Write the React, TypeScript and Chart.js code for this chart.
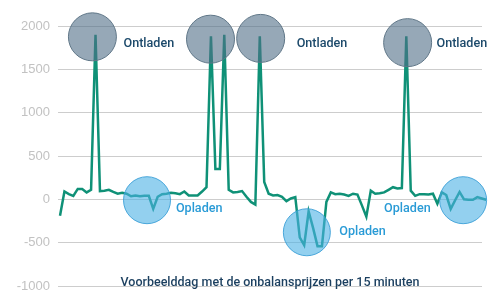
import React, { useEffect, useRef } from "react";
import { Chart, registerables } from "chart.js";

Chart.register(...registerables);

// Imbalance prices per quarter hour (index 0..96)
const prices = [
  -190, 90, 60, 40, 120, 120, 80, 110, 1900, 95,
  100, 110, 85, 65, 75, 65, 35, 45, 35, 40,
  40, -110, 30, 60, 65, 75, 70, 60, 90, 45,
  45, 45, 90, 140, 1880, 350, 350, 1900, 110, 80,
  85, 95, 30, -30, -60, 1880, 200, 65, 45, 50,
  30, -20, 10, 25, -440, -530, -140, -330, -540, -540,
  -30, 80, 60, 65, 55, 40, 65, 55, -70, -200,
  100, 65, 70, 80, 110, 140, 125, 130, 1880, 100,
  40, 60, 60, 55, 65, -50, 80, 50, -110, -10,
  85, 0, -5, -5, 25, 10, -5,
];

// Discharge (Ontladen) highlight circles
const dischargeX = [7.3, 33.9, 45.2, 78.3];
const dischargeY = [1875, 1848, 1857, 1808];
// Charge (Opladen) highlight circles
const chargeX = [19.6, 55.6, 90.8];
const chargeY = [-10, -380, -10];

const yTicks = [-1000, -500, 0, 500, 1000, 1500, 2000];
const title = "Voorbeelddag met de onbalansprijzen per 15 minuten";

const labelTexts = ["Ontladen", "Ontladen", "Ontladen", "Opladen", "Opladen", "Opladen"];
const labelKinds = ["dis", "dis", "dis", "chg", "chg", "chg"];
const labelX = [14.3, 53.3, 84.8, 26.1, 62.9, 73.0];
const labelY = [1797, 1797, 1797, -107, -377, -107];

const FONT = '"Liberation Sans", Arial, Helvetica, sans-serif';
const FONT_MED = 'Roboto, "Liberation Sans", Arial, sans-serif';

export default function App() {
  const ref = useRef<HTMLCanvasElement | null>(null);

  useEffect(() => {
    if (!ref.current) return;

    const annotations = {
      id: "annotations",
      afterDatasetsDraw(chart: any) {
        const { ctx, scales, chartArea } = chart;
        const xs = scales.x;
        const ys = scales.y;
        ctx.save();
        ctx.font = `500 12.6px ${FONT_MED}`;
        ctx.textAlign = "left";
        ctx.textBaseline = "middle";
        labelTexts.forEach((t, i) => {
          ctx.fillStyle = labelKinds[i] === "dis" ? "#1d4a6b" : "#2a9bd6";
          ctx.fillText(t, xs.getPixelForValue(labelX[i]), ys.getPixelForValue(labelY[i]));
        });
        ctx.font = `500 12.5px ${FONT_MED}`;
        ctx.fillStyle = "#1b3f5f";
        ctx.textAlign = "center";
        ctx.textBaseline = "alphabetic";
        ctx.fillText(
          title,
          (chartArea.left + chartArea.right) / 2,
          ys.getPixelForValue(yTicks[0]) - 0.5
        );
        ctx.restore();
      },
    };

    const chart = new Chart(ref.current, {
      type: "line",
      data: {
        datasets: [
          {
            type: "bubble",
            data: dischargeX.map((x, i) => ({ x, y: dischargeY[i], r: 24 })),
            backgroundColor: "rgba(80,110,135,0.6)",
            borderColor: "#5f7687",
            borderWidth: 1,
            clip: false,
          } as any,
          {
            type: "bubble",
            data: chargeX.map((x, i) => ({ x, y: chargeY[i], r: 23.5 })),
            backgroundColor: "rgba(75,177,228,0.6)",
            borderColor: "rgba(60,160,215,0.9)",
            borderWidth: 1,
            clip: false,
          } as any,
          {
            type: "line",
            data: prices.map((v, i) => ({ x: i, y: v })),
            borderColor: "#0f9177",
            borderWidth: 2.5,
            pointRadius: 0,
            tension: 0,
            fill: false,
            clip: false,
          } as any,
        ],
      },
      options: {
        animation: false,
        responsive: true,
        maintainAspectRatio: false,
        events: [],
        layout: { autoPadding: false, padding: { top: 18, right: 13, bottom: 6, left: 0 } },
        plugins: {
          legend: { display: false },
          tooltip: { enabled: false },
          title: { display: false },
        },
        scales: {
          x: {
            type: "linear",
            display: false,
            min: -0.45,
            max: 95.05,
          },
          y: {
            min: yTicks[0],
            max: yTicks[yTicks.length - 1],
            afterBuildTicks: (s: any) => {
              s.ticks = yTicks.map((v) => ({ value: v }));
            },
            afterFit: (s: any) => {
              s.width = 50;
              s.paddingTop = 0;
              s.paddingBottom = 0;
            },
            border: { display: false },
            grid: { color: "#cdcdcd", lineWidth: 1, drawTicks: false },
            ticks: {
              padding: 8,
              color: "#c2c2c2",
              font: { size: 13, family: FONT },
              callback: (v: any) => String(v),
            },
          },
        },
      },
      plugins: [annotations],
    } as any);

    return () => chart.destroy();
  }, []);

  return (
    <div style={{ position: "relative", width: 487, height: 284 }}>
      <canvas ref={ref} />
    </div>
  );
}
